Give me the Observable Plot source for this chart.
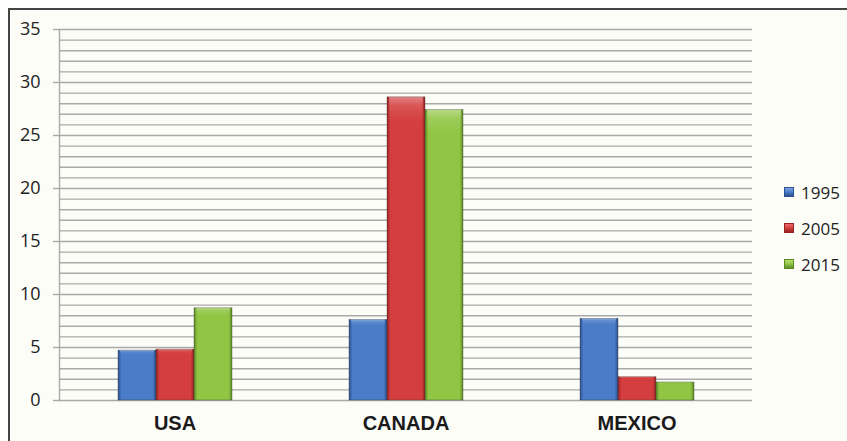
<!DOCTYPE html>
<html><head><meta charset="utf-8">
<script src="https://cdn.jsdelivr.net/npm/d3@7"></script>
<script src="https://cdn.jsdelivr.net/npm/@observablehq/plot@0.6"></script>
<style>
html,body{margin:0;padding:0;background:#fff;overflow:hidden;width:847px;height:441px}
#frame{position:absolute;left:8px;top:8px;width:900px;height:500px;border-left:2px solid #444;border-top:2px solid #444;background:#fdfdf8}
#chart{position:absolute;left:0;top:0}
#legend{position:absolute;left:784px;top:174px;font-family:"Open Sans";font-size:17px;color:#222}
.row{display:flex;align-items:center;height:36px}
.sw{width:10px;height:10px;margin-right:7px;box-sizing:border-box}
</style>
</head><body>
<div id="frame"></div>
<div id="chart"></div>
<div id="legend"></div>
<script>
const countries = ["USA", "CANADA", "MEXICO"];
const years = ["1995", "2005", "2015"];
const v1995 = [4.7, 7.6, 7.7];
const v2005 = [4.8, 28.6, 2.2];
const v2015 = [8.7, 27.4, 1.7];
const yTicks = [0, 5, 10, 15, 20, 25, 30, 35];
const yMinor = d3.range(0, 36);

const series = [v1995, v2005, v2015];
const data = [];
countries.forEach((c, i) => years.forEach((y, j) => data.push({country: c, year: y, value: series[j][i]})));

const palette = {
  "1995": {base: "#4a7cc8", light: "#7aa4e4", dark: "#2c5090"},
  "2005": {base: "#d43e3e", light: "#ec6a6a", dark: "#962424"},
  "2015": {base: "#90c644", light: "#b6e06c", dark: "#5c8a24"}
};

const chart = Plot.plot({
  width: 847,
  height: 441,
  marginLeft: 59,
  marginRight: 95,
  marginTop: 29,
  marginBottom: 41,
  style: {background: "transparent", fontFamily: "Open Sans"},
  fx: {domain: countries, padding: 0, label: null},
  x: {domain: years, paddingInner: 0, paddingOuter: 1.5, axis: null},
  y: {domain: [0, 35], axis: null},
  color: {domain: years, range: years.map(y => `url(#grad${y})`)},
  marks: [
    Plot.gridY(yMinor, {stroke: "#a9a9a9", strokeOpacity: 1, strokeWidth: 1.4}),
    Plot.axisY(yTicks, {tickSize: 6, tickPadding: 13, fontSize: 18, stroke: "#a9a9a9", strokeWidth: 1.4, fill: "#222", label: null}),
    Plot.frame({anchor: "left", facetAnchor: "left", stroke: "#a9a9a9", strokeWidth: 1.4}),
    Plot.barY(data, {fx: "country", x: "year", y: "value", fill: "year", stroke: "#333", strokeOpacity: 0.45, strokeWidth: 0.8}),
    Plot.barY(data, {fx: "country", x: "year", y1: 0, y2: "value", fill: "url(#shine)", insetLeft: 2, insetRight: 2}),
    Plot.axisFx({anchor: "bottom", tickSize: 0, tickPadding: 15, fontSize: 20, fontWeight: "bold", fontFamily: "Liberation Sans", fill: "#1a1a1a", label: null})
  ]
});

const svg = d3.select(chart);
const defs = svg.insert("defs", ":first-child");
years.forEach(y => {
  const p = palette[y];
  const g = defs.append("linearGradient").attr("id", `grad${y}`).attr("x1", "0").attr("x2", "1").attr("y1", "0").attr("y2", "0");
  [[0, p.dark], [0.09, p.base], [0.5, p.base], [0.91, p.base], [1, p.dark]].forEach(([o, c]) =>
    g.append("stop").attr("offset", o).attr("stop-color", c));
});
const sh = defs.append("linearGradient").attr("id", "shine").attr("gradientUnits", "objectBoundingBox").attr("x1", "0").attr("x2", "0").attr("y1", "0").attr("y2", "1");
[[0, "#ffffff", 0.35], [0.03, "#ffffff", 0.12], [0.08, "#ffffff", 0], [1, "#ffffff", 0]].forEach(([o, c, a]) =>
  sh.append("stop").attr("offset", o).attr("stop-color", c).attr("stop-opacity", a));
document.getElementById("chart").appendChild(chart);

const legend = d3.select("#legend");
years.forEach(y => {
  const r = legend.append("div").attr("class", "row");
  r.append("div").attr("class", "sw")
    .style("background", `linear-gradient(to bottom, ${palette[y].light}, ${palette[y].base} 50%, ${palette[y].dark})`)
    .style("border", `1px solid ${palette[y].dark}`);
  r.append("span").text(y);
});
</script>
</body></html>
